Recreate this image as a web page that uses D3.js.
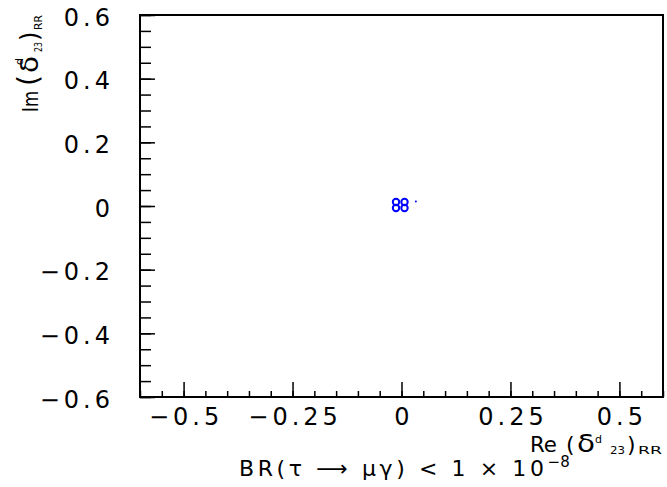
<!DOCTYPE html>
<meta charset="utf-8">
<head>
<style>
body { margin: 0; background: #fff; }
svg text { font-family: "DejaVu Sans", sans-serif; fill: #000; }
.tick text { font-size: 24px; letter-spacing: 4px; }
.tick line { stroke: #000; stroke-width: 1.5; }
.frame { fill: none; stroke: #000; stroke-width: 2; }
.pt { fill: none; stroke: #0000ff; stroke-width: 2; }
</style>
</head>
<body>
<svg width="667" height="487"></svg>
<script src="https://d3js.org/d3.v7.min.js"></script>
<script>

// scan points (Re, Im) of delta^d_23 RR surviving the BR cut
var reVals = [-0.0126, 0.0069, -0.0126, 0.0069];
var imVals = [0.0126, 0.0126, -0.0063, -0.0063];
var strayRe = [0.033];
var strayIm = [0.014];

var xMajor = [-0.5, -0.25, 0, 0.25, 0.5];
var yMajor = [-0.6, -0.4, -0.2, 0, 0.2, 0.4, 0.6];
var xDomain = [-0.6, 0.6];
var yDomain = [-0.6, 0.6];

var svg = d3.select("svg"),
    pLeft = 140, pRight = 663, pTop = 15, pBottom = 397;

var x = d3.scaleLinear().domain(xDomain).range([pLeft, pRight]);
var y = d3.scaleLinear().domain(yDomain).range([pBottom, pTop]);

var minor = d3.range(-12, 13).map(function(i) { return i * 0.05; });
var fmt = d3.format("~g");

// y axis : minor then major ticks, pointing inward
var gy = svg.append("g").attr("transform", "translate(" + pLeft + ",0)");
gy.append("g")
    .call(d3.axisLeft(y).tickValues(minor).tickSize(-11).tickFormat(""))
    .call(function(g) { g.select(".domain").remove(); });
gy.append("g")
    .call(d3.axisLeft(y).tickValues(yMajor).tickSize(-15).tickPadding(26).tickFormat(fmt))
    .call(function(g) { g.select(".domain").remove(); })
    .selectAll("text").attr("dy", "0.42em");

// x axis
var gx = svg.append("g").attr("transform", "translate(0," + pBottom + ")");
gx.append("g")
    .call(d3.axisBottom(x).tickValues(minor).tickSize(-6).tickFormat(""))
    .call(function(g) { g.select(".domain").remove(); });
gx.append("g")
    .call(d3.axisBottom(x).tickValues(xMajor).tickSize(-15).tickPadding(11).tickFormat(fmt))
    .call(function(g) { g.select(".domain").remove(); })
    .selectAll("text").attr("dx", "2px");

svg.selectAll(".tick text").attr("font-family", null).attr("fill", null);
svg.selectAll("g[font-size]").attr("font-size", null).attr("font-family", null);

svg.append("rect").attr("class", "frame")
    .attr("x", pLeft).attr("y", pTop)
    .attr("width", pRight - pLeft).attr("height", pBottom - pTop);

// points
var pts = reVals.map(function(d, i) { return [d, imVals[i]]; });
svg.append("g").selectAll("circle")
    .data(pts)
  .enter().append("circle")
    .attr("class", "pt")
    .attr("cx", function(d) { return x(d[0]); })
    .attr("cy", function(d) { return y(d[1]); })
    .attr("r", 3.2);

svg.append("g").selectAll("circle")
    .data(strayRe.map(function(d, i) { return [d, strayIm[i]]; }))
  .enter().append("circle")
    .attr("cx", function(d) { return x(d[0]); })
    .attr("cy", function(d) { return y(d[1]); })
    .attr("r", 1)
    .attr("fill", "#0000ff");

// little helper for the latex-ish titles: [text, x, baseline, size, length]
function label(g, parts) {
  parts.forEach(function(p) {
    var t = g.append("text")
        .attr("x", p[1]).attr("y", p[2])
        .attr("font-size", p[3])
        .text(p[0]);
    if (p[4]) t.attr("textLength", p[4]).attr("lengthAdjust", "spacingAndGlyphs");
  });
}

// x title
label(svg.append("g"), [
  ["Re", 530, 452, 21, 27],
  ["(", 566, 452, 22],
  ["δ", 577, 452, 24, 18],
  ["d", 595, 443, 11],
  ["23", 610, 454, 10, 15],
  [")", 627, 452, 22],
  ["RR", 638, 454, 10, 24]
]);

// y title (rotated, u runs upward)
label(svg.append("g").attr("transform", "translate(38,0) rotate(-90)"), [
  ["Im", -112, 0, 22, 21],
  ["(", -86, 0, 28],
  ["δ", -73, 0, 24, 17],
  ["d", -65, -15, 11],
  ["23", -52, 4, 10, 10],
  [")", -41, 0, 24],
  ["RR", -30, 4, 10, 15]
]);

// cut label
var bt = svg.append("text")
    .attr("x", 239).attr("y", 476)
    .attr("font-size", 22)
    .attr("letter-spacing", "3.6px");
bt.append("tspan").text("BR(τ ⟶ μγ) < 1 × 10");
bt.append("tspan").attr("font-size", 15).attr("dy", -9).attr("letter-spacing", "0px").text("−8");

</script>
</body>
